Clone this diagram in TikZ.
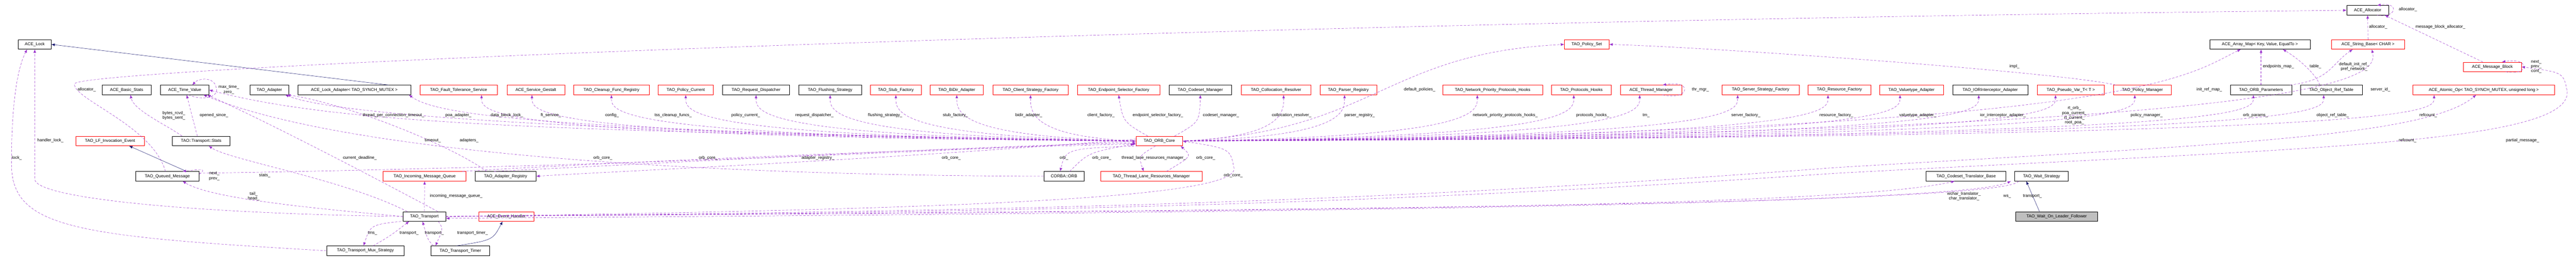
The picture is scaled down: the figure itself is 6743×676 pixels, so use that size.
\documentclass[tikz,border=0pt]{standalone}
\usepackage{fontspec}
\setmainfont{Liberation Sans}
\usetikzlibrary{arrows.meta,calc}
\definecolor{pur}{HTML}{9A32CD}
\definecolor{navy}{HTML}{191970}
\newcommand\lbfont{\fontsize{11}{12.5}\selectfont}
\newcommand\bx[5]{\node[#1, minimum width=#2pt] (#3) at (#4) {#5};}
\newcommand\fanL[2]{\draw[dep] (core.west) .. controls ($(#1)+(0,#2)$) and ($(#1)+(0,45)$) .. (#1);}
\newcommand\fanR[2]{\draw[dep] (core.east) .. controls ($(#1)+(0,#2)$) and ($(#1)+(0,45)$) .. (#1);}
\begin{document}
\begin{tikzpicture}[x=1pt,y=-1pt,
  box/.style={draw=black, line width=0.8pt, minimum height=25pt, inner sep=0pt, font=\lbfont, fill=white},
  rbox/.style={box, draw=red},
  gbox/.style={box, fill=black!25},
  dep/.style={draw=pur, dash pattern=on 6pt off 4pt, line width=0.7pt, -{Latex[length=9pt,width=7pt]}},
  inh/.style={draw=navy, line width=0.7pt, -{Latex[length=9pt,width=7pt]}},
  lbl/.style={font=\lbfont, align=center, inner sep=1pt}]
\useasboundingbox (0,0) rectangle (6743,676);
% row A
\bx{box}{86}{acelock}{91,116.5}{ACE\_Lock}
\bx{rbox}{117}{polset}{4153.5,116.5}{TAO\_Policy\_Set}
\bx{box}{263}{arraymap}{5915.5,116.5}{ACE\_Array\_Map< Key, Value, EqualTo >}
\bx{rbox}{191}{stringbase}{6198.5,116.5}{ACE\_String\_Base< CHAR >}
\bx{box}{109}{alloc}{6197.5,27}{ACE\_Allocator}
\bx{rbox}{152}{msgblock}{6524,175.5}{ACE\_Message\_Block}
% row B
\bx{box}{127}{bstats}{331.5,236}{ACE\_Basic\_Stats}
\bx{box}{127}{tv}{483.5,236}{ACE\_Time\_Value}
\bx{box}{102}{adapter}{705,236}{TAO\_Adapter}
\bx{box}{295}{lockad}{927.5,236}{ACE\_Lock\_Adapter< TAO\_SYNCH\_MUTEX >}
\bx{rbox}{203}{ft}{1200.5,236}{TAO\_Fault\_Tolerance\_Service}
\bx{rbox}{151}{gestalt}{1402.5,236}{ACE\_Service\_Gestalt}
\bx{rbox}{197}{cleanup}{1600.5,236}{TAO\_Cleanup\_Func\_Registry}
\bx{rbox}{144}{polcur}{1795,236}{TAO\_Policy\_Current}
\bx{box}{176}{reqdisp}{1979,236}{TAO\_Request\_Dispatcher}
\bx{box}{164}{flush}{2173,236}{TAO\_Flushing\_Strategy}
\bx{rbox}{134}{stubf}{2345,236}{TAO\_Stub\_Factory}
\bx{rbox}{139}{bidir}{2504.5,236}{TAO\_BiDir\_Adapter}
\bx{rbox}{197}{clientf}{2697.5,236}{TAO\_Client\_Strategy\_Factory}
\bx{rbox}{216}{endpf}{2928,236}{TAO\_Endpoint\_Selector\_Factory}
\bx{box}{164}{codesetm}{3142,236}{TAO\_Codeset\_Manager}
\bx{rbox}{182}{colloc}{3340,236}{TAO\_Collocation\_Resolver}
\bx{rbox}{149}{parser}{3529.5,236}{TAO\_Parser\_Registry}
\bx{rbox}{262}{npph}{3907,236}{TAO\_Network\_Priority\_Protocols\_Hooks}
\bx{rbox}{157}{protoh}{4139.5,236}{TAO\_Protocols\_Hooks}
\bx{rbox}{160}{thrmgr}{4322,236}{ACE\_Thread\_Manager}
\bx{rbox}{203}{serverf}{4608.5,236}{TAO\_Server\_Strategy\_Factory}
\bx{rbox}{164}{resf}{4815,236}{TAO\_Resource\_Factory}
\bx{rbox}{167}{valuet}{5003.5,236}{TAO\_Valuetype\_Adapter}
\bx{box}{197}{iorint}{5209.5,236}{TAO\_IORInterceptor\_Adapter}
\bx{rbox}{175}{pseudo}{5420.5,236}{TAO\_Pseudo\_Var\_T< T >}
\bx{rbox}{152}{polman}{5608,236}{TAO\_Policy\_Manager}
\bx{box}{161}{orbparams}{5918.5,236}{TAO\_ORB\_Parameters}
\bx{box}{161}{objref}{6102.5,236}{TAO\_Object\_Ref\_Table}
\bx{rbox}{371}{atomic}{6501.5,236}{ACE\_Atomic\_Op< TAO\_SYNCH\_MUTEX, unsigned long >}
% row C
\bx{rbox}{180}{lfie}{288,370}{TAO\_LF\_Invocation\_Event}
\bx{box}{151}{stats}{526.5,370}{TAO::Transport::Stats}
\bx{rbox}{121}{core}{3034.5,370}{TAO\_ORB\_Core}
% row D
\bx{box}{166}{queued}{438,462.5}{TAO\_Queued\_Message}
\bx{rbox}{217}{incoming}{1111.5,462.5}{TAO\_Incoming\_Message\_Queue}
\bx{box}{159}{adreg}{1323.5,462.5}{TAO\_Adapter\_Registry}
\bx{box}{106}{corba}{2785,462.5}{CORBA::ORB}
\bx{rbox}{265}{tlrm}{3013.5,462.5}{TAO\_Thread\_Lane\_Resources\_Manager}
\bx{box}{209}{cstrans}{5146.5,462.5}{TAO\_Codeset\_Translator\_Base}
\bx{box}{140}{waits}{5344,462.5}{TAO\_Wait\_Strategy}
% row E, F
\bx{box}{112}{transport}{1111,568}{TAO\_Transport}
\bx{rbox}{145}{evh}{1325.5,568}{ACE\_Event\_Handler}
\bx{gbox}{215}{wolf}{5383.5,568}{TAO\_Wait\_On\_Leader\_Follower}
\bx{box}{203}{mux}{956.5,658}{TAO\_Transport\_Mux\_Strategy}
\bx{box}{154}{timer}{1205,658}{TAO\_Transport\_Timer}

% inheritance
\draw[inh] ($(lockad.north)+(90,0)$) -- (acelock.east);
\draw[inh] ($(queued.north)+(50,0)$) -- ($(lfie.south)+(50,0)$);
\draw[inh] ($(timer.north)+(-10,0)$) .. controls (1290,630) .. ($(evh.south)+(-10,0)$);
\draw[inh] ($(wolf.north)+(-45,0)$) -- ($(waits.south)+(-40,0)$);

% left part
\draw[dep] (mux.west) .. controls (200,620) and (30,600) .. (30,430) .. controls (30,250) and (50,170) .. ($(acelock.south)+(-20,0)$);
\draw[dep] (transport.west) .. controls (500,560) and (91,520) .. (91,470) -- (acelock.south);
\draw[dep] ($(queued.north)+(-5,0)$) .. controls (400,330) and (190,260) .. (195,220) .. controls (200,180) and (3000,60) .. (alloc.west);
\draw[dep] ($(stats.north)+(-50,0)$) .. controls (440,330) and (350,290) .. ($(bstats.south)+(10,0)$);
\draw[dep] ($(stats.north)+(-10,0)$) -- ($(tv.south)+(5,0)$);
\draw[dep] ($(tv.south)+(10,0)$) .. controls (530,265) and (575,255) .. (566,230) .. controls (560,200) and (520,205) .. ($(tv.north)+(20,0)$);
\draw[dep] ($(transport.north)+(35,0)$) .. controls (950,450) and (700,320) .. ($(tv.south east)+(-5,0)$);
\draw[dep] (core.west) .. controls (1500,345) and (900,330) .. (tv.east);
\draw[dep] (corba.west) .. controls (1800,460) and (900,400) .. ($(tv.south east)+(-15,0)$);
\draw[dep] (core.west) .. controls (1300,345) and (850,290) .. ($(adapter.south east)+(-10,0)$);
\draw[dep] ($(adreg.north)+(-50,0)$) .. controls (1180,380) and (900,270) .. ($(adapter.south east)+(-5,0)$);
\draw[dep] (core.west) .. controls (1400,345) and (1140,300) .. ($(lockad.south east)+(-5,0)$);
\draw[dep] ($(transport.north)+(-45,0)$) .. controls (900,470) and (600,420) .. ($(stats.south)+(20,0)$);
\draw[dep] (transport.west) .. controls (800,545) and (550,520) .. ($(queued.south)+(40,0)$);
\draw[dep] ($(queued.east)+(0,-5)$) .. controls (545,440) and (520,445) .. ($(queued.north)+(40,0)$);
\draw[dep] (transport.north) -- (incoming.south);
\draw[dep] ($(transport.south west)+(-5,0)$) .. controls (970,590) .. ($(mux.north)+(-5,0)$);
\draw[dep] ($(mux.north)+(20,0)$) .. controls (1020,620) .. ($(transport.south)+(-40,0)$);
\draw[dep] ($(timer.north)+(-70,0)$) .. controls (1120,630) .. ($(transport.south)+(-5,0)$);
\draw[dep] ($(transport.south east)+(-20,0)$) .. controls (1160,600) .. ($(timer.north)+(-65,0)$);

% ORB core fans
\fanL{$(ft.south)+(60,0)$}{110}
\fanL{$(gestalt.south)+(-10,0)$}{110}
\fanL{cleanup.south}{110}
\fanL{polcur.south}{110}
\fanL{reqdisp.south}{110}
\fanL{flush.south}{110}
\fanL{stubf.south}{110}
\fanL{bidir.south}{110}
\fanL{clientf.south}{110}
\draw[dep] ($(core.north)+(-30,0)$) .. controls (2940,320) .. (endpf.south);
\draw[dep] ($(core.north)+(40,0)$) .. controls (3140,320) .. (codesetm.south);
\fanR{$(colloc.south)+(20,0)$}{110}
\fanR{$(parser.south)+(-10,0)$}{110}
\draw[dep] (core.east) .. controls (3600,345) and (3620,140) .. (polset.west);
\fanR{$(npph.south)+(-40,0)$}{110}
\fanR{$(protoh.south)+(-20,0)$}{110}
\fanR{$(thrmgr.south)+(-30,0)$}{110}
\draw[dep] ($(thrmgr.south)+(30,0)$) .. controls (4420,265) and (4435,210) .. ($(thrmgr.north)+(30,0)$);
\fanR{$(serverf.south)+(-60,0)$}{110}
\fanR{$(resf.south)+(-30,0)$}{110}
\fanR{$(valuet.south)+(-30,0)$}{110}
\fanR{$(iorint.south)+(-30,0)$}{110}
\fanR{$(pseudo.south)+(-40,0)$}{110}
\fanR{$(polman.south)+(-20,0)$}{110}
\draw[dep] (core.east) .. controls (5600,345) and (5720,200) .. ($(arraymap.south)+(-50,0)$);
\fanR{$(orbparams.south)+(-20,0)$}{110}
\fanR{$(objref.south)+(-20,0)$}{110}
\draw[dep] (core.east) .. controls (6170,345) and (6225,200) .. ($(stringbase.south)+(10,0)$);
\fanR{$(atomic.south)+(-130,0)$}{110}
\draw[dep] ($(polman.north)+(-70,0)$) .. controls (5400,190) and (4500,125) .. (polset.east);

% right top
\draw[dep] (orbparams.north) -- ($(arraymap.south)+(3,0)$);
\draw[dep] ($(objref.north)+(-30,0)$) .. controls (6060,190) and (6010,150) .. ($(arraymap.south)+(60,0)$);
\draw[dep] ($(orbparams.north east)+(-5,0)$) .. controls (6100,210) and (6100,170) .. ($(stringbase.south)+(-40,0)$);
\draw[dep] (stringbase.north) -- (alloc.south);
\draw[dep] ($(alloc.south east)+(-30,0)$) .. controls (6270,50) and (6285,5) .. ($(alloc.north)+(25,0)$);
\draw[dep] ($(msgblock.north)+(-25,0)$) -- ($(alloc.south east)+(-10,0)$);
\draw[dep] ($(msgblock.south)+(35,0)$) .. controls (6620,200) and (6625,150) .. ($(msgblock.north)+(25,0)$);

% ORB core neighbours
\draw[dep] ($(core.south west)+(5,0)$) .. controls (2790,390) .. ($(corba.north)+(-10,0)$);
\draw[dep] ($(corba.north)+(15,0)$) .. controls (2850,400) .. ($(core.south west)+(-5,-5)$);
\draw[dep] ($(core.south)+(-10,0)$) .. controls (2980,410) .. ($(tlrm.north)+(-20,0)$);
\draw[dep] ($(tlrm.north)+(40,0)$) .. controls (3120,410) .. ($(core.south east)+(-5,0)$);
\draw[dep] ($(queued.east)+(0,-8)$) .. controls (1500,440) and (2500,395) .. (core.west);
\draw[dep] ($(adreg.north)+(-30,0)$) .. controls (1900,420) and (2500,385) .. ($(core.west)+(0,5)$);
\draw[dep] ($(incoming.north east)+(-10,0)$) .. controls (1700,420) and (2600,385) .. ($(core.west)+(0,8)$);
\draw[dep] ($(core.west)+(0,-5)$) .. controls (2300,420) and (1600,450) .. (adreg.east);
\draw[dep] (transport.east) .. controls (2500,550) and (3250,520) .. (3230,440) .. controls (3220,390) .. (core.east);

% transport to the right
\draw[dep] (transport.east) .. controls (3000,555) and (4800,550) .. ($(cstrans.south)+(-30,0)$);
\draw[dep] (transport.east) .. controls (3000,552) and (5100,545) .. ($(waits.south)+(-80,0)$);
\draw[dep] ($(waits.south)+(-60,0)$) .. controls (5250,540) and (3000,560) .. ($(transport.east)+(0,5)$);
\draw[dep] (transport.east) .. controls (2500,555) and (3500,540) .. (4800,440) .. controls (5800,380) and (6350,360) .. ($(atomic.south)+(-20,0)$);
\draw[dep] (transport.east) .. controls (2500,558) and (3500,545) .. (4800,455) .. controls (6000,390) and (6730,380) .. (6720,240) .. controls (6710,190) .. (msgblock.east);

% labels
\node[lbl] (l1) at (227,235) {allocator\_};
\node[lbl] (l2) at (599,235) {max\_time\_\\zero\_};
\node[lbl] (l3) at (455,303) {bytes\_rcvd\_\\bytes\_sent\_};
\node[lbl] (l4) at (560,303) {opened\_since\_};
\node[lbl] (l5) at (1030,303) {thread\_per\_connection\_timeout\_};
\node[lbl] (l6) at (132,369) {handler\_lock\_};
\node[lbl] (l7) at (44,415) {lock\_};
\node[lbl] (l8) at (1133,369) {timeout\_};
\node[lbl] (l9) at (942,415) {current\_deadline\_};
\node[lbl] (l10) at (561,462) {next\_\\prev\_};
\node[lbl] (l11) at (693,461) {stats\_};
\node[lbl] (l12) at (664,515) {tail\_\\head\_};
\node[lbl] (l13) at (1194,515) {incoming\_message\_queue\_};
\node[lbl] (l14) at (975,612) {tms\_};
\node[lbl] (l15) at (1071,612) {transport\_};
\node[lbl] (l16) at (1137,612) {transport\_};
\node[lbl] (l17) at (1237,612) {transport\_timer\_};
\node[lbl] (l18) at (1228,369) {adapters\_};
\node[lbl] (l19) at (1200,303) {poa\_adapter\_};
\node[lbl] (l20) at (1327,303) {data\_block\_lock\_};
\node[lbl] (l21) at (1442,303) {ft\_service\_};
\node[lbl] (l22) at (1602,303) {config\_};
\node[lbl] (l23) at (1762,303) {tss\_cleanup\_funcs\_};
\node[lbl] (l24) at (1952,303) {policy\_current\_};
\node[lbl] (l25) at (2132,303) {request\_dispatcher\_};
\node[lbl] (l26) at (1578,415) {orb\_core\_};
\node[lbl] (l27) at (1854,415) {orb\_core\_};
\node[lbl] (l28) at (2141,415) {adapter\_registry\_};
\node[lbl] (l29) at (2317,303) {flushing\_strategy\_};
\node[lbl] (l30) at (2501,303) {stub\_factory\_};
\node[lbl] (l31) at (2693,303) {bidir\_adapter\_};
\node[lbl] (l32) at (2882,303) {client\_factory\_};
\node[lbl] (l33) at (3031,303) {endpoint\_selector\_factory\_};
\node[lbl] (l34) at (3196,303) {codeset\_manager\_};
\node[lbl] (l35) at (3381,303) {collocation\_resolver\_};
\node[lbl] (l36) at (2490,415) {orb\_core\_};
\node[lbl] (l37) at (2785,415) {orb\_};
\node[lbl] (l38) at (2884,415) {orb\_core\_};
\node[lbl] (l39) at (3020,415) {thread\_lane\_resources\_manager\_};
\node[lbl] (l40) at (3156,415) {orb\_core\_};
\node[lbl] (l41) at (3228,461) {orb\_core\_};
\node[lbl] (l42) at (3559,303) {parser\_registry\_};
\node[lbl] (l43) at (3716,235) {default\_policies\_};
\node[lbl] (l44) at (3940,303) {network\_priority\_protocols\_hooks\_};
\node[lbl] (l45) at (4169,303) {protocols\_hooks\_};
\node[lbl] (l46) at (4309,303) {tm\_};
\node[lbl] (l47) at (4451,235) {thr\_mgr\_};
\node[lbl] (l48) at (5273,175) {impl\_};
\node[lbl] (l49) at (4570,303) {server\_factory\_};
\node[lbl] (l50) at (4807,303) {resource\_factory\_};
\node[lbl] (l51) at (5020,303) {valuetype\_adapter\_};
\node[lbl] (l52) at (5243,303) {ior\_interceptor\_adapter\_};
\node[lbl] (l53) at (5430,303) {rt\_orb\_\\poa\_current\_\\rt\_current\_\\root\_poa\_};
\node[lbl] (l54) at (5141,515) {wchar\_translator\_\\char\_translator\_};
\node[lbl] (l55) at (5254,515) {ws\_};
\node[lbl] (l56) at (5320,515) {transport\_};
\node[lbl] (l57) at (6303,25) {allocator\_};
\node[lbl] (l58) at (6225,71) {allocator\_};
\node[lbl] (l59) at (6388,71) {message\_block\_allocator\_};
\node[lbl] (l60) at (5964,175) {endpoints\_map\_};
\node[lbl] (l61) at (6061,175) {table\_};
\node[lbl] (l62) at (6162,175) {default\_init\_ref\_\\pref\_network\_};
\node[lbl] (l63) at (6639,175) {next\_\\prev\_\\cont\_};
\node[lbl] (l64) at (5783,235) {init\_ref\_map\_};
\node[lbl] (l65) at (6231,235) {server\_id\_};
\node[lbl] (l66) at (5619,303) {policy\_manager\_};
\node[lbl] (l67) at (5904,303) {orb\_params\_};
\node[lbl] (l68) at (6106,303) {object\_ref\_table\_};
\node[lbl] (l69) at (6356,303) {refcount\_};
\node[lbl] (l70) at (6302,369) {refcount\_};
\node[lbl] (l71) at (6603,369) {partial\_message\_};
\end{tikzpicture}
\end{document}
